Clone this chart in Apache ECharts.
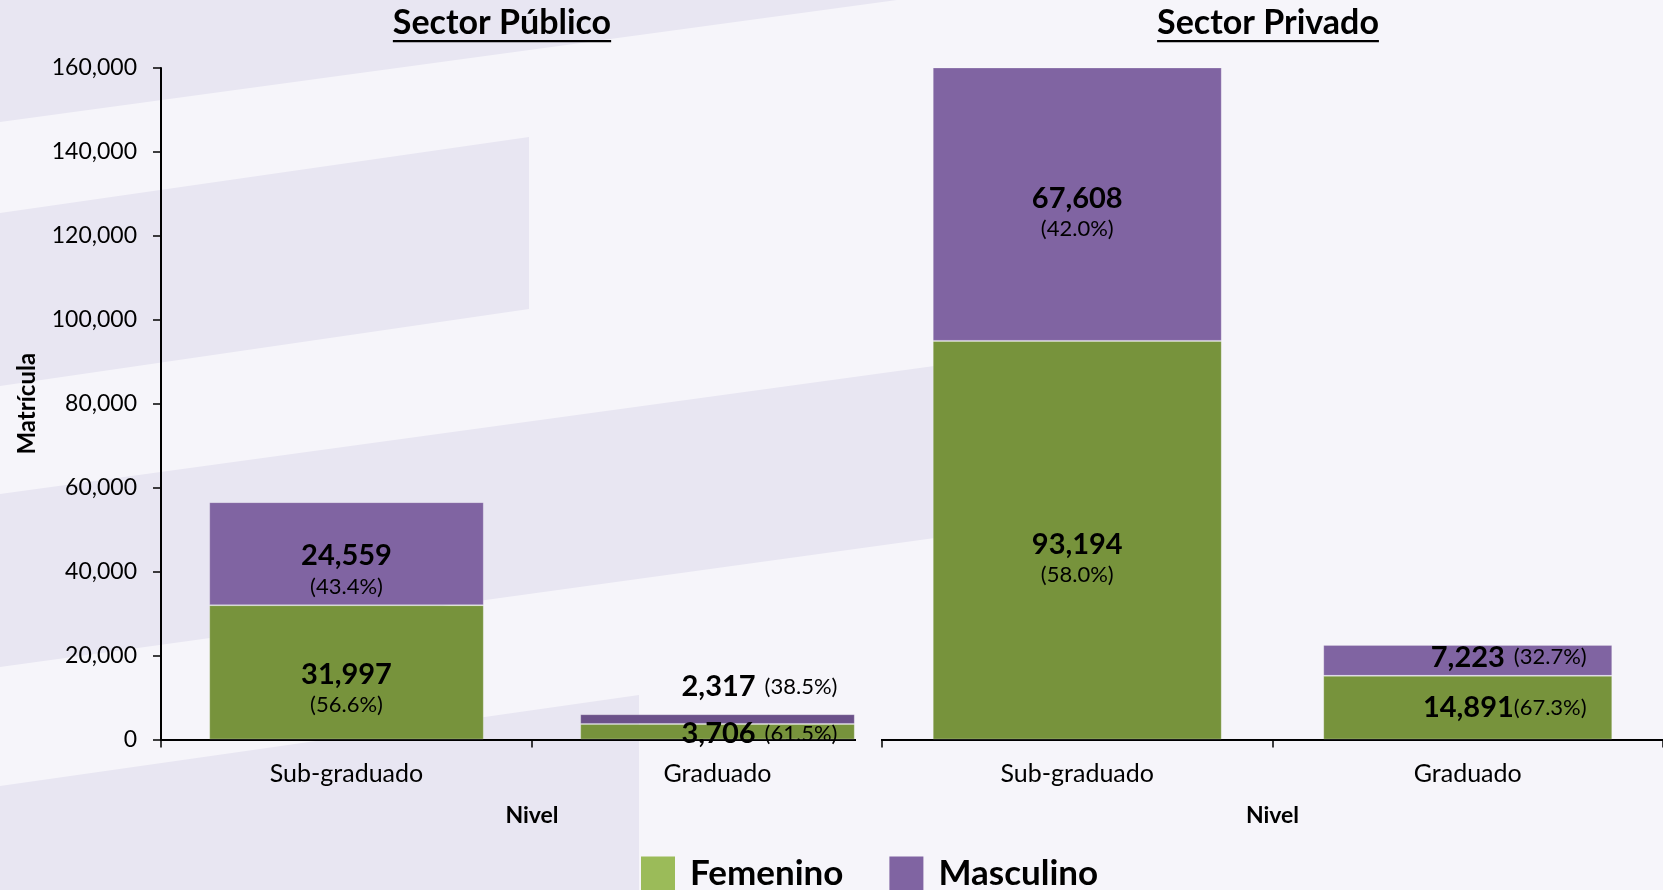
<!DOCTYPE html>
<html>
<head>
<meta charset="utf-8">
<script src="https://cdn.jsdelivr.net/npm/echarts@6/dist/echarts.min.js"></script>
<style>
  html, body { margin: 0; padding: 0; background: #f6f5fa; }
  #chart { width: 1663px; height: 890px; }
</style>
</head>
<body>
<div id="chart"></div>
<script>
// data
const niveles = ['Sub-graduado', 'Graduado'];
const publicoFemenino = [31997, 3706];
const publicoMasculino = [24559, 2317];
const privadoFemenino = [93194, 14891];
const privadoMasculino = [67608, 7223];
const titulos = ['Sector Público', 'Sector Privado'];
const serieNombres = ['Femenino', 'Masculino'];

const GREEN = '#77933c';
const PURPLE = '#8064a2';
const BAND = '#e8e6f2';
const BG = '#f6f5fa';
const FONT = 'Lato';

function fmt(v) { return Number(v).toLocaleString('en-US'); }

function pct(v, other) { return (v / (v + other) * 100).toFixed(1); }

// label text: two lines for the tall bar, one line for the short one
function labelFormatter(values, others, seps) {
  return (p) => {
    const i = p.dataIndex;
    const v = values[i];
    return `{v|${fmt(v)}}${seps[i]}{p|(${pct(v, others[i])}%)}`;
  };
}

const rich = {
  v: { fontFamily: FONT, fontWeight: 'bold', fontSize: 29, color: '#000', lineHeight: 34 },
  p: { fontFamily: FONT, fontSize: 22, color: '#000', lineHeight: 28 },
  s: { width: 9 },
};

function barSeries(name, gridIdx, stack, values, others, color, seps, offsets, itemColors) {
  return {
    name,
    type: 'bar',
    stack,
    xAxisIndex: gridIdx,
    yAxisIndex: gridIdx,
    barWidth: '74%',
    data: values.map((v, i) => ({
      value: v,
      itemStyle: itemColors && itemColors[i] ? { color: itemColors[i] } : undefined,
      label: { offset: offsets[i] },
    })),
    itemStyle: { color, borderColor: 'rgba(255,255,255,0.22)', borderWidth: 1 },
    label: {
      show: true,
      position: 'inside',
      formatter: labelFormatter(values, others, seps),
      rich,
    },
  };
}

function textWidth(text, font) {
  const ctx = document.createElement('canvas').getContext('2d');
  ctx.font = font;
  return ctx.measureText(text).width;
}

function titleGraphic(text, cx) {
  const font = `bold 34px ${FONT}`;
  const w = textWidth(text, font);
  return [
    { type: 'text', z: 10, x: cx, y: 23, style: { text, font, fill: '#000', align: 'center', verticalAlign: 'middle' } },
    { type: 'rect', z: 10, shape: { x: cx - w / 2, y: 40, width: w, height: 2.3 }, style: { fill: '#000' } },
  ];
}

const xAxisBase = (gridIndex) => ({
  type: 'category',
  gridIndex,
  data: niveles,
  name: 'Nivel',
  nameLocation: 'middle',
  nameGap: 65,
  nameTextStyle: { fontFamily: FONT, fontWeight: 'bold', fontSize: 23, color: '#000' },
  axisLine: { lineStyle: { color: '#000', width: 2 } },
  axisTick: { show: true, length: 8, lineStyle: { color: '#000', width: 1.5 } },
  axisLabel: { fontFamily: FONT, fontSize: 25, color: '#000', margin: 22 },
  splitLine: { show: false },
});

const option = {
  backgroundColor: BG,
  animation: false,
  textStyle: { fontFamily: FONT },
  graphic: [
    // background decoration bands
    { type: 'polygon', z: -1, shape: { points: [[0, 0], [897, 0], [0, 122]] }, style: { fill: BAND } },
    { type: 'polygon', z: -1, shape: { points: [[0, 213], [529, 137], [529, 309], [0, 386]] }, style: { fill: BAND } },
    { type: 'polygon', z: -1, shape: { points: [[0, 494], [1000, 357], [1000, 529], [0, 667]] }, style: { fill: BAND } },
    { type: 'polygon', z: -1, shape: { points: [[0, 786], [639, 695], [639, 890], [0, 890]] }, style: { fill: BAND } },
    // left chart frame ends where the right chart begins
    { type: 'rect', z: 10, shape: { x: 856, y: 736, width: 25, height: 16 }, style: { fill: BG } },
    { type: 'rect', z: 10, shape: { x: 885, y: 741, width: 25, height: 11 }, style: { fill: BG } },
    ...titleGraphic(titulos[0], 502),
    ...titleGraphic(titulos[1], 1268),
  ],
  legend: {
    left: 641,
    top: 856,
    padding: 0,
    icon: 'rect',
    itemWidth: 34,
    itemHeight: 34,
    itemGap: 46,
    textStyle: { fontFamily: FONT, fontWeight: 'bold', fontSize: 35, color: '#000', padding: [0, 0, 6, 10] },
    data: [
      { name: serieNombres[0], itemStyle: { color: '#9bbb59', borderWidth: 0 } },
      { name: serieNombres[1], itemStyle: { color: PURPLE, borderWidth: 0 } },
    ],
  },
  grid: [
    { left: 161, top: 68, width: 742, height: 671.5 },
    { left: 882, top: 68, width: 784, height: 671.5 },
  ],
  xAxis: [xAxisBase(0), xAxisBase(1)],
  yAxis: [
    {
      type: 'value',
      gridIndex: 0,
      min: 0,
      max: 160000,
      interval: 20000,
      name: 'Matrícula',
      nameLocation: 'middle',
      nameGap: 122,
      nameRotate: 90,
      nameTextStyle: { fontFamily: FONT, fontWeight: 'bold', fontSize: 24, color: '#000' },
      axisLine: { show: true, lineStyle: { color: '#000', width: 2 } },
      axisTick: { show: true, length: 8, lineStyle: { color: '#000', width: 1.5 } },
      axisLabel: { fontFamily: FONT, fontSize: 23, color: '#000', margin: 24, formatter: fmt },
      splitLine: { show: false },
    },
    { type: 'value', gridIndex: 1, min: 0, max: 157000, show: false, splitLine: { show: false } },
  ],
  series: [
    barSeries(serieNombres[0], 0, 'pub', publicoFemenino, publicoMasculino, GREEN,
      ['\n', '{s| }'], [[0, 16], [42, 2]]),
    barSeries(serieNombres[1], 0, 'pub', publicoMasculino, publicoFemenino, PURPLE,
      ['\n', '{s| }'], [[0, 16], [42, -32]], [null, '#6b5189']),
    barSeries(serieNombres[0], 1, 'priv', privadoFemenino, privadoMasculino, GREEN,
      ['\n', ''], [[0, 18], [37, 0]]),
    barSeries(serieNombres[1], 1, 'priv', privadoMasculino, privadoFemenino, PURPLE,
      ['\n', '{s| }'], [[0, 8], [41, -3]]),
  ],
};

const chart = echarts.init(document.getElementById('chart'));
chart.setOption(option);
window.addEventListener('resize', () => chart.resize());
</script>
</body>
</html>
